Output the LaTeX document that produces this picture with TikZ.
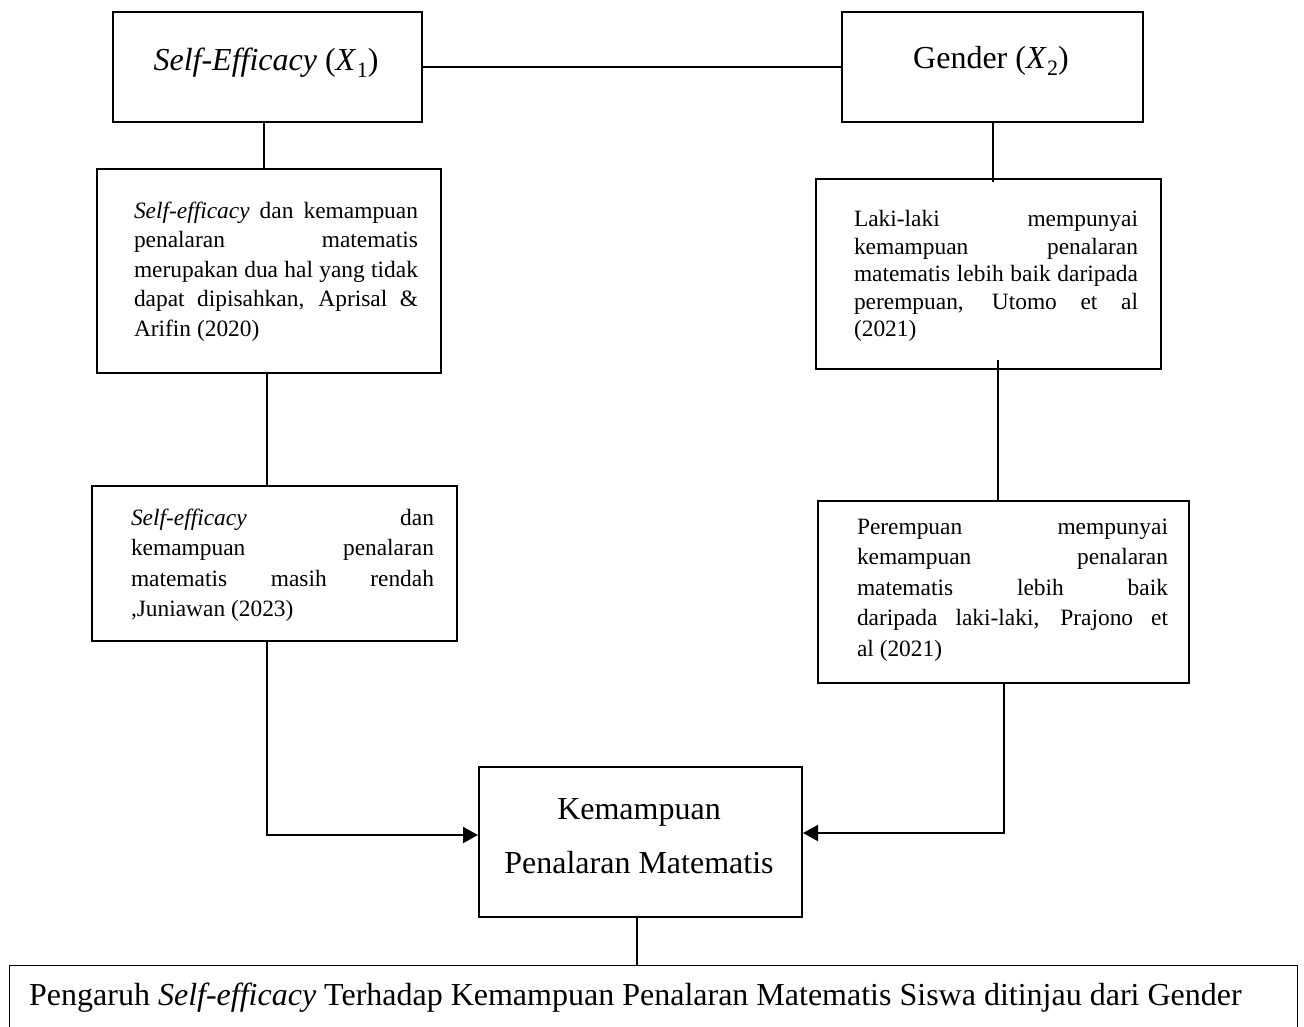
\documentclass[tikz,border=0pt]{standalone}
\usepackage{fontspec}
\setmainfont{Liberation Serif}
\usetikzlibrary{arrows.meta}
\tolerance=10000
\hyphenpenalty=10000
\exhyphenpenalty=10000
\newcommand{\varX}[1]{(\textit{X}\kern0.5pt\raisebox{-0.22em}{\fontsize{22}{22}\selectfont #1})}
\tikzset{
  x=1pt, y=-1pt,
  box/.style={draw, line width=2pt, anchor=north west, inner sep=0pt},
  thinbox/.style={draw, line width=1.1pt, anchor=north west, inner sep=0pt},
  conn/.style={line width=2pt},
  arr/.style={line width=2pt, -{Triangle[length=15pt,width=16pt]}},
  head/.style={inner sep=0pt, font=\fontsize{32}{38}\selectfont},
  body/.style={inner sep=0pt, align=justify, text width=#1},
}
\begin{document}
\begin{tikzpicture}
\useasboundingbox (0,0) rectangle (1304,1026);
\clip (0,0) rectangle (1304,1026);
% boxes
\node[box, minimum width=309pt, minimum height=110pt] (X1) at (112,11) {};
\node[box, minimum width=301pt, minimum height=110pt] (X2) at (841,11) {};
\node[box, minimum width=344pt, minimum height=204pt] (A1) at (96,168) {};
\node[box, minimum width=345pt, minimum height=190pt] (B1) at (815,178) {};
\node[box, minimum width=365pt, minimum height=155pt] (A2) at (91,485) {};
\node[box, minimum width=371pt, minimum height=182pt] (B2) at (817,500) {};
\node[box, minimum width=323pt, minimum height=150pt] (K) at (478,766) {};
\node[thinbox, minimum width=1288pt, minimum height=100pt] (Bot) at (9,965) {};
% texts
\node[head, anchor=base] (X1t) at (266,70) {\textit{Self-Efficacy} \varX{1}};
\node[head, anchor=base] (X2t) at (991,68) {Gender \varX{2}};
\node[body=284pt, font=\fontsize{23.4}{29.6}\selectfont] (A1t) at (276,271.5)
  {\textit{Self-efficacy} dan kemampuan\linebreak penalaran matematis\linebreak merupakan dua hal yang tidak\linebreak dapat dipisahkan, Aprisal \&\linebreak Arifin (2020)};
\node[body=303pt, font=\fontsize{23.4}{30.5}\selectfont] (A2t) at (282.5,565)
  {\textit{Self-efficacy} dan\linebreak kemampuan penalaran\linebreak matematis masih rendah\linebreak ,Juniawan (2023)};
\node[body=284pt, font=\fontsize{23.4}{27.5}\selectfont] (B1t) at (996,276)
  {Laki-laki mempunyai\linebreak kemampuan penalaran\linebreak matematis lebih baik daripada\linebreak perempuan, Utomo et al\linebreak (2021)};
\node[body=311pt, font=\fontsize{23.4}{30.5}\selectfont] (B2t) at (1012.5,590)
  {Perempuan mempunyai\linebreak kemampuan penalaran\linebreak matematis lebih baik\linebreak daripada laki-laki, Prajono et\linebreak al (2021)};
\node[inner sep=0pt, align=center, font=\fontsize{32}{54}\selectfont] (Kt) at (639,836)
  {Kemampuan\\Penalaran Matematis};
\node[head, anchor=base west] (Bott) at (29,1005)
  {Pengaruh \textit{Self-efficacy} Terhadap Kemampuan Penalaran Matematis Siswa ditinjau dari Gender};
% connectors
\draw[conn] (X1.east) -- (X2.west);
\draw[conn] ([xshift=-3.5pt]X1.south) -- ([xshift=-3.5pt]X1.south |- A1.north);
\draw[conn] ([xshift=-2pt]A1.south) -- ([xshift=-2pt]A1.south |- A2.north);
\draw[arr] ([xshift=-7.5pt]A2.south) |- ([yshift=7pt]K.west);
\draw[conn] (X2.south) -- ([yshift=-4pt]X2.south |- B1.north);
\draw[conn] ([xshift=9.5pt,yshift=10pt]B1.south) -- ([xshift=9.5pt]B1.south |- B2.north);
\draw[arr] (B2.south) |- ([yshift=9pt]K.east);
\draw[conn] ([xshift=-4pt]K.south) -- ([xshift=-4pt]K.south |- Bot.north);
\end{tikzpicture}
\end{document}
